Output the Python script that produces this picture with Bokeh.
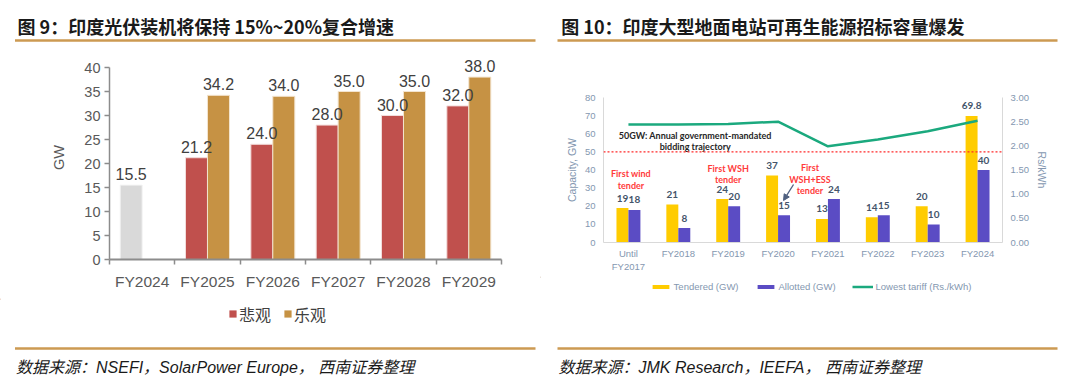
from bokeh.plotting import figure
from bokeh.models import (Range1d, LinearAxis, FixedTicker, ColumnDataSource, Legend,
                          LegendItem, Span, Label, Arrow, NormalHead, NumeralTickFormatter)
from bokeh.layouts import row, column
from bokeh.embed import file_html
from bokeh.resources import INLINE
from bokeh.core.properties import value

# ---------------- data: left chart (figure 9) ----------------
left_title = "图 9：印度光伏装机将保持 15%~20%复合增速"
left_source = "数据来源：NSEFI，SolarPower Europe， 西南证券整理"
left_categories = ["FY2024", "FY2025", "FY2026", "FY2027", "FY2028", "FY2029"]
actual_values = [15.5, None, None, None, None, None]
pessimistic_values = [None, 21.2, 24.0, 28.0, 30.0, 32.0]
optimistic_values = [None, 34.2, 34.0, 35.0, 35.0, 38.0]
left_series_names = ["悲观", "乐观"]
left_y_ticks = [0, 5, 10, 15, 20, 25, 30, 35, 40]
left_y_label = "GW"

# ---------------- data: right chart (figure 10) ----------------
right_title = "图 10：印度大型地面电站可再生能源招标容量爆发"
right_source = "数据来源：JMK Research，IEEFA， 西南证券整理"
right_categories = ["Until\nFY2017", "FY2018", "FY2019", "FY2020", "FY2021", "FY2022", "FY2023", "FY2024"]
tendered_gw = [19, 21, 24, 37, 13, 14, 20, 69.8]
allotted_gw = [18, 8, 20, 15, 24, 15, 10, 40]
tendered_labels = ["19", "21", "24", "37", "13", "14", "20", "69.8"]
allotted_labels = ["18", "8", "20", "15", "24", "15", "10", "40"]
lowest_tariff = [2.44, 2.44, 2.45, 2.50, 1.99, 2.13, 2.30, 2.52]
right_series_names = ["Tendered (GW)", "Allotted (GW)", "Lowest tariff (Rs./kWh)"]
right_y_ticks = [0, 10, 20, 30, 40, 50, 60, 70, 80]
tariff_ticks = [0.0, 0.5, 1.0, 1.5, 2.0, 2.5, 3.0]
mandate_gw = 50
mandate_text = "50GW: Annual government-mandated\nbidding trajectory"
event_texts = ["First wind\ntender", "First WSH\ntender", "First\nWSH+ESS\ntender"]
event_category = [0, 2, 4]
event_x_shift = [0.05, 0.0, -0.36]
event_level = [34.9, 37.7, 34.8]

CJK = "Noto Sans CJK SC"
SANS = "Liberation Sans"
INNER = "Lato"
RULE = "#CC9A52"
W = 540

# colours
C_ACT, C_PES, C_OPT = "#D9D9D9", "#C0504D", "#C69244"
C_TEN, C_ALL, C_TAR = "#FFCC00", "#5B4CC4", "#1BA97E"
AX = "#8497B0"


def deco_fig(h):
    f = figure(width=W, height=h, x_range=Range1d(0, W), y_range=Range1d(h, 0),
               x_axis_type=None, y_axis_type=None, output_backend="svg",
               toolbar_location=None, min_border=0, frame_align=False)
    f.outline_line_color = None
    f.grid.visible = False
    return f


def title_fig(text, x0, rule_x0, rule_x1):
    f = deco_fig(50)
    f.add_layout(Label(x=x0, y=25, text=text, text_font=CJK, text_font_size="18px",
                       text_font_style="bold", text_color="#1a1a1a", text_baseline="middle"))
    f.segment(x0=[rule_x0], y0=[40], x1=[rule_x1], y1=[40], line_color=RULE, line_width=2.5)
    return f


def bottom_fig(h, text, x0, rule_x0, rule_x1, rule_y, text_y):
    f = deco_fig(h)
    f.segment(x0=[rule_x0], y0=[rule_y], x1=[rule_x1], y1=[rule_y], line_color=RULE, line_width=2.5)
    f.add_layout(Label(x=x0, y=text_y, text=text, text_font=SANS + ", " + CJK, text_font_size="16px",
                       text_font_style="italic", text_color="#1a1a1a", text_baseline="middle"))
    return f


# ---------------- left chart ----------------
nL = len(left_categories)
pl = figure(width=W, height=248, x_range=Range1d(0, nL), y_range=Range1d(0, 42.5),
            x_axis_type=None, y_axis_type=None, output_backend="svg", toolbar_location=None,
            min_border_left=109, min_border_right=39, min_border_top=5, min_border_bottom=39,
            frame_align=False)
pl.outline_line_color = None
pl.grid.visible = False

ly = LinearAxis(ticker=FixedTicker(ticks=left_y_ticks), axis_label=left_y_label, bounds=(0, 40))
ly.axis_line_color = "#8c8c8c"; ly.axis_line_width = 1.5
ly.major_tick_line_color = "#8c8c8c"; ly.major_tick_line_width = 1.5
ly.major_tick_out = 5; ly.major_tick_in = 0; ly.minor_tick_out = 0; ly.minor_tick_in = 0
ly.major_label_standoff = 4
ly.major_label_text_font = SANS; ly.major_label_text_font_size = "14.5px"
ly.major_label_text_color = "#595959"
ly.axis_label_text_font = SANS; ly.axis_label_text_font_size = "14.5px"
ly.axis_label_text_font_style = "normal"; ly.axis_label_text_color = "#595959"
ly.axis_label_standoff = 14
pl.add_layout(ly, "left")

lx = LinearAxis(ticker=FixedTicker(ticks=[i + 0.5 for i in range(nL)], minor_ticks=list(range(nL + 1))),
                major_label_overrides={i + 0.5: c for i, c in enumerate(left_categories)})
lx.axis_line_color = "#8c8c8c"; lx.axis_line_width = 2
lx.major_tick_out = 0; lx.major_tick_in = 0
lx.minor_tick_out = 5; lx.minor_tick_in = 0
lx.minor_tick_line_color = "#8c8c8c"; lx.minor_tick_line_width = 1.5
lx.major_label_standoff = 8
lx.major_label_text_font = SANS; lx.major_label_text_font_size = "15.5px"
lx.major_label_text_color = "#595959"
pl.add_layout(lx, "below")

BW = 0.337
OFF = 0.168


def bar_source(vals, shift):
    xs, tops, labels = [], [], []
    for i, v in enumerate(vals):
        if v is not None:
            xs.append(i + 0.5 + shift)
            tops.append(v)
            labels.append(f"{v:.1f}")
    return ColumnDataSource(dict(x=xs, top=tops, label=labels))


s_act = bar_source(actual_values, -OFF)
s_pes = bar_source(pessimistic_values, -OFF)
s_opt = bar_source(optimistic_values, OFF)

pl.vbar(x="x", top="top", width=BW, source=s_act, fill_color=C_ACT, line_color="#F4F4F4", line_width=1)
pl.vbar(x="x", top="top", width=BW, source=s_pes, fill_color=C_PES, line_color="#F2DCDB", line_width=1)
pl.vbar(x="x", top="top", width=BW, source=s_opt, fill_color=C_OPT, line_color="#F3E4CF", line_width=1)
for s in (s_act, s_pes, s_opt):
    pl.text(x="x", y="top", text="label", source=s, text_align="center", text_baseline="alphabetic",
            y_offset=-11, text_font=value(SANS), text_font_size="16px", text_color="#404040")

# left legend + source (below the chart); legend keys are off-view proxies
bl = bottom_fig(91, left_source, 15.5, 14.5, 535, 50, 69)
k_pes = bl.vbar(x=[-500], top=[1], width=1, fill_color=C_PES, line_color=None)
k_opt = bl.vbar(x=[-500], top=[1], width=1, fill_color=C_OPT, line_color=None)
legL = Legend(items=[LegendItem(label=left_series_names[0], renderers=[k_pes]),
                     LegendItem(label=left_series_names[1], renderers=[k_opt])],
              location=(228, 63.5), orientation="horizontal", glyph_width=9, glyph_height=9,
              label_standoff=2, spacing=12, padding=0, margin=0, label_height=16,
              border_line_color=None, background_fill_alpha=0,
              label_text_font=CJK, label_text_font_size="16px", label_text_color="#404040")
bl.add_layout(legL, "center")

# ---------------- right chart ----------------
nR = len(right_categories)
pr = figure(width=W, height=226, x_range=Range1d(0, nR), y_range=Range1d(0, 80),
            x_axis_type=None, y_axis_type=None, output_backend="svg", toolbar_location=None,
            min_border_left=63, min_border_right=78, min_border_top=47, min_border_bottom=34,
            frame_align=False)
pr.outline_line_color = None
pr.grid.visible = False
pr.extra_y_ranges = {"tariff": Range1d(0, 3)}

ry = LinearAxis(ticker=FixedTicker(ticks=right_y_ticks), axis_label="Capacity, GW")
ry2 = LinearAxis(y_range_name="tariff", ticker=FixedTicker(ticks=tariff_ticks),
                 formatter=NumeralTickFormatter(format="0.00"), axis_label="Rs/kWh")
for a in (ry, ry2):
    a.axis_line_color = "#D9D9D9"; a.axis_line_width = 1
    a.major_tick_out = 0; a.major_tick_in = 0; a.minor_tick_out = 0; a.minor_tick_in = 0
    a.major_label_standoff = 8
    a.major_label_text_font = SANS; a.major_label_text_font_size = "9.5px"
    a.major_label_text_color = AX
    a.axis_label_text_font = SANS; a.axis_label_text_font_size = "10.5px"
    a.axis_label_text_font_style = "normal"; a.axis_label_text_color = AX
    a.axis_label_standoff = 4
pr.add_layout(ry, "left")
pr.add_layout(ry2, "right")

rx = LinearAxis(ticker=FixedTicker(ticks=[i + 0.5 for i in range(nR)]),
                major_label_overrides={i + 0.5: c for i, c in enumerate(right_categories)})
rx.axis_line_color = "#D9D9D9"; rx.axis_line_width = 1
rx.major_tick_out = 0; rx.major_tick_in = 0; rx.minor_tick_out = 0; rx.minor_tick_in = 0
rx.major_label_standoff = 5
rx.major_label_text_font = SANS; rx.major_label_text_font_size = "9.5px"
rx.major_label_text_color = AX
pr.add_layout(rx, "below")

RBW = 0.24
s_ten = ColumnDataSource(dict(x=[i + 0.5 - RBW / 2 for i in range(nR)], top=tendered_gw, label=tendered_labels))
s_all = ColumnDataSource(dict(x=[i + 0.5 + RBW / 2 for i in range(nR)], top=allotted_gw, label=allotted_labels))
s_tar = ColumnDataSource(dict(x=[i + 0.5 for i in range(nR)], y=lowest_tariff))

pr.vbar(x="x", top="top", width=RBW, source=s_ten, fill_color=C_TEN, line_color=None)
pr.vbar(x="x", top="top", width=RBW, source=s_all, fill_color=C_ALL, line_color=None)
pr.add_layout(Span(location=mandate_gw, dimension="width", line_color="#FF2A2A",
                   line_dash="2 2", line_width=1.3))
pr.line(x="x", y="y", source=s_tar, y_range_name="tariff", line_color=C_TAR, line_width=2.5)

for s in (s_ten, s_all):
    pr.text(x="x", y="top", text="label", source=s, text_align="center", text_baseline="middle",
            y_offset=-10, text_font=value(INNER), text_font_style="bold",
            text_font_size="10px", text_color="#44546A")

pr.text(x=[1.84], y=[56.1], text=[mandate_text], text_align="center", text_baseline="middle",
        text_font=value(INNER), text_font_style="bold", text_font_size="9px",
        text_color="#262626", text_line_height=1.05)

s_evt = ColumnDataSource(dict(x=[c + 0.5 + d for c, d in zip(event_category, event_x_shift)],
                              y=event_level, text=event_texts))
pr.text(x="x", y="y", text="text", source=s_evt, text_align="center", text_baseline="middle",
        text_font=value(INNER), text_font_style="bold", text_font_size="9px",
        text_color="#FF3B3B", text_line_height=1.05)

pr.add_layout(Arrow(x_start=3.81, y_start=32.0, x_end=3.61, y_end=23.2,
                    line_color="#4F6080", line_width=1.3,
                    end=NormalHead(size=6, fill_color="#4F6080", line_color="#4F6080")))

# right legend + source
br = bottom_fig(113, right_source, 18, 17, 517, 72, 91)
k_ten = br.vbar(x=[-500], top=[1], width=1, fill_color=C_TEN, line_color=None)
k_all = br.vbar(x=[-500], top=[1], width=1, fill_color=C_ALL, line_color=None)
k_tar = br.line(x=[-500, -499], y=[1, 1], line_color=C_TAR, line_width=2.5)
legR = Legend(items=[LegendItem(label=right_series_names[0], renderers=[k_ten]),
                     LegendItem(label=right_series_names[1], renderers=[k_all]),
                     LegendItem(label=right_series_names[2], renderers=[k_tar])],
              location=(109.6, 97), orientation="horizontal", glyph_width=21, glyph_height=5,
              label_standoff=3, spacing=16, padding=0, margin=0, label_height=11,
              border_line_color=None, background_fill_alpha=0,
              label_text_font=SANS, label_text_font_size="9.5px", label_text_color=AX)
br.add_layout(legR, "center")

# ---------------- layout ----------------
left_col = column(title_fig(left_title, 17, 14.5, 535), pl, bl)
right_col = column(title_fig(right_title, 20.7, 17, 517), pr, br)
layout = row(left_col, right_col)

open("out.html", "w").write(file_html(layout, INLINE))
